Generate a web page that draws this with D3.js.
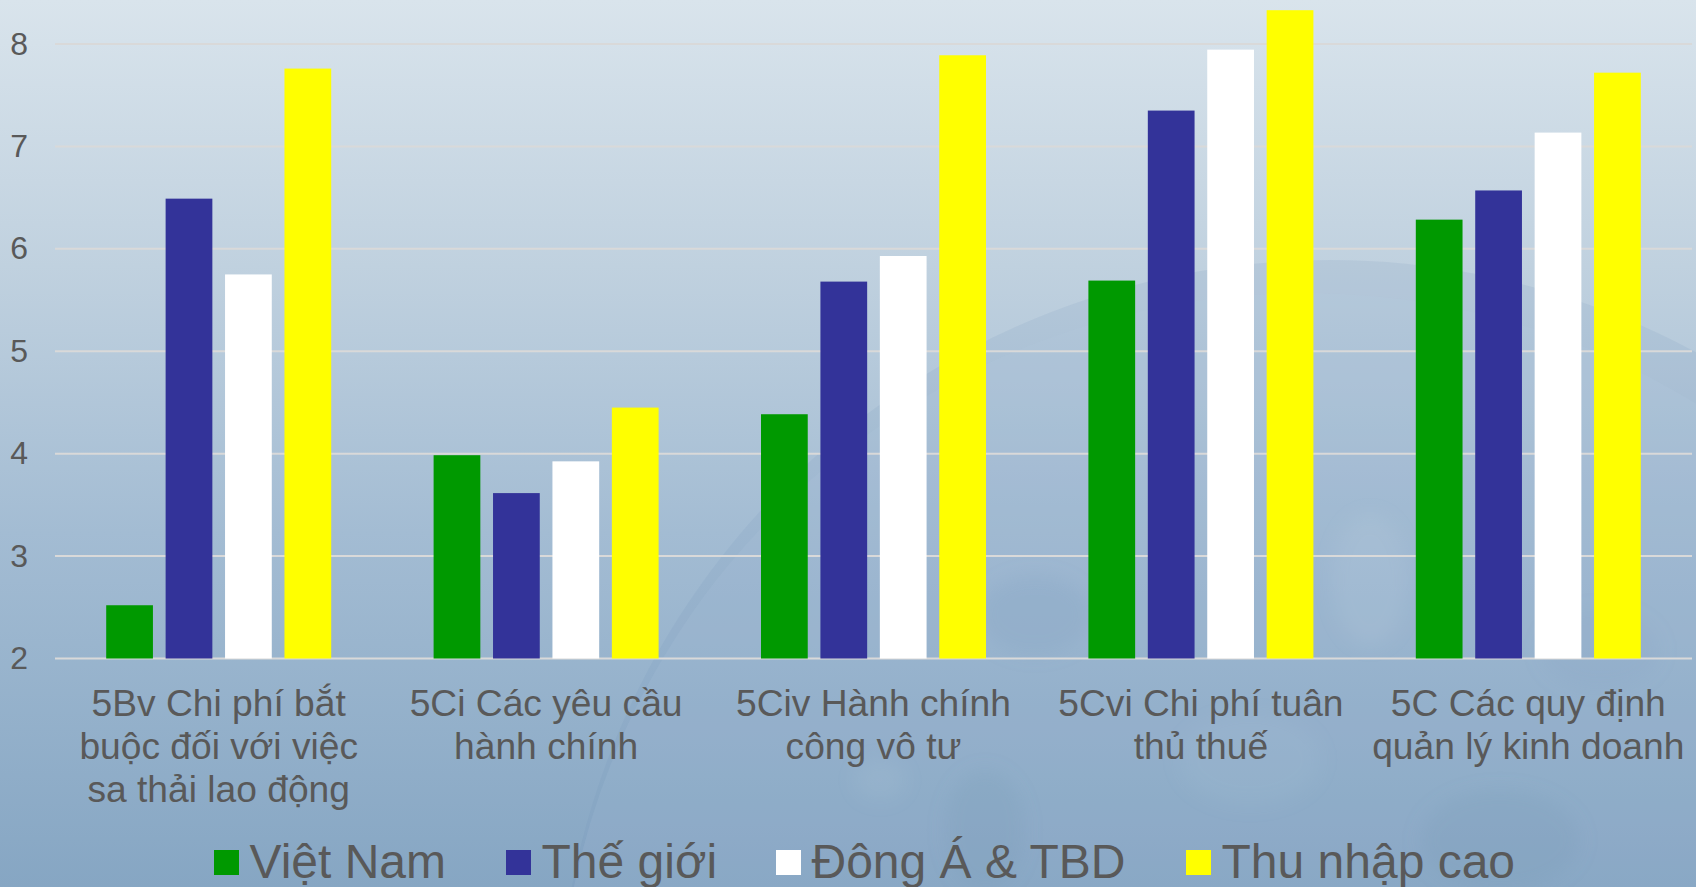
<!DOCTYPE html>
<html><head><meta charset="utf-8">
<script src="https://cdn.jsdelivr.net/npm/d3@7/dist/d3.min.js"></script>
<style>html,body{margin:0;padding:0;overflow:hidden;background:#8aa9c5}svg{display:block}text{font-family:"Liberation Sans",Arial,sans-serif;fill:#595959}</style>
</head><body><svg id="c" width="1696" height="887"></svg>
<script>
const categories=[["5Bv Chi phí bắt","buộc đối với việc","sa thải lao động"],["5Ci Các yêu cầu","hành chính"],["5Civ Hành chính","công vô tư"],["5Cvi Chi phí tuân","thủ thuế"],["5C Các quy định","quản lý kinh doanh"]];
const seriesNames=["Việt Nam","Thế giới","Đông Á & TBD","Thu nhập cao"];
const seriesColors=["#009900","#333399","#ffffff","#ffff00"];
const vietNam=[2.52,3.985,4.385,5.69,6.285];
const theGioi=[6.49,3.615,5.68,7.35,6.57];
const dongA=[5.75,3.925,5.93,7.945,7.135];
const thuNhapCao=[7.76,4.45,7.89,8.33,7.72];
const yTicks=[2,3,4,5,6,7,8];
const allSeries=[vietNam,theGioi,dongA,thuNhapCao];

const svg=d3.select("#c");
const W=1696,H=887;
const defs=svg.append("defs");
const g=defs.append("linearGradient").attr("id","bg").attr("x1",0).attr("x2",0).attr("y1",0).attr("y2",1);
[[0,"#d9e4ec"],[.3,"#c0d1df"],[.6,"#a3bcd3"],[1,"#86a6c3"]].forEach(d=>g.append("stop").attr("offset",d[0]).attr("stop-color",d[1]));
defs.append("filter").attr("id","soft").append("feGaussianBlur").attr("stdDeviation",9);
defs.append("clipPath").attr("id","globe").append("circle").attr("cx",1305).attr("cy",1040).attr("r",747);
svg.append("rect").attr("width",W).attr("height",H).attr("fill","url(#bg)");
// faint globe backdrop: shaded rim, lighter disc, soft land masses
svg.append("circle").attr("cx",1330).attr("cy",1032).attr("r",772).attr("fill","#6f8fb2").attr("fill-opacity",.12);
svg.append("circle").attr("cx",1305).attr("cy",1040).attr("r",747).attr("fill","#b9cfe2").attr("fill-opacity",.14);
const land=svg.append("g").attr("clip-path","url(#globe)").append("g").attr("filter","url(#soft)");
[[1035,615,55,40,"#7f9dbd",.2],[985,830,40,60,"#7595b6",.2],[1500,840,80,50,"#7595b6",.2],
 [1370,580,38,65,"#c2d5e3",.16],[1250,760,70,45,"#a9c2d8",.15],[1600,650,60,40,"#7f9dbd",.14],[880,780,25,20,"#b5cbdd",.14]]
 .forEach(d=>land.append("ellipse").attr("cx",d[0]).attr("cy",d[1]).attr("rx",d[2]).attr("ry",d[3]).attr("fill",d[4]).attr("fill-opacity",d[5]));

const x=d3.scaleBand().domain(d3.range(categories.length)).range([55,1692]);
const inner=d3.scaleBand().domain(d3.range(4)).range([x.bandwidth()/2-112.5,x.bandwidth()/2+112.5]).paddingInner(.2135);
const y=d3.scaleLinear().domain([2,8]).range([658.5,44]);

const grid=svg.append("g");
grid.selectAll("line").data(yTicks).join("line").attr("x1",55).attr("x2",1692)
 .attr("y1",d=>y(d)).attr("y2",d=>y(d)).attr("stroke","#d9d9d9").attr("stroke-width",2);
svg.append("g").selectAll("text").data(yTicks).join("text").attr("x",28).attr("text-anchor","end")
 .attr("y",d=>y(d)+10.5).attr("font-size",32).text(d=>d);

allSeries.forEach((vals,s)=>{
 svg.append("g").selectAll("rect").data(vals).join("rect")
  .attr("x",(d,i)=>x(i)+inner(s)).attr("width",inner.bandwidth())
  .attr("y",d=>y(d)).attr("height",d=>y(2)-y(d)).attr("fill",seriesColors[s]);
});

categories.forEach((lines,i)=>{
 const t=svg.append("text").attr("text-anchor","middle").attr("font-size",37.2);
 lines.forEach((l,j)=>t.append("tspan").attr("x",x(i)+x.bandwidth()/2).attr("y",716+j*43).text(l));
});

const legendX=[214,506,776,1186], swatchW=25;
seriesNames.forEach((n,i)=>{
 svg.append("rect").attr("x",legendX[i]).attr("y",850).attr("width",swatchW).attr("height",25).attr("fill",seriesColors[i]);
 svg.append("text").attr("x",legendX[i]+swatchW+10.5).attr("y",878).attr("font-size",48).text(n);
});
</script></body></html>
